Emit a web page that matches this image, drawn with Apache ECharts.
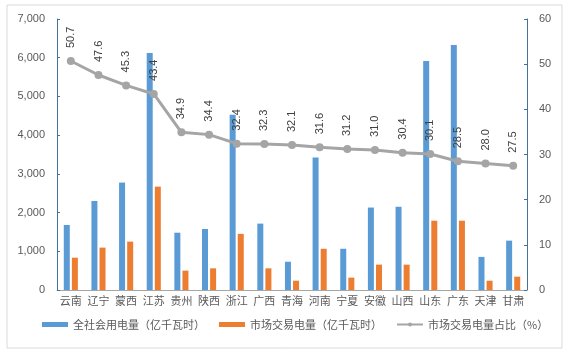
<!DOCTYPE html>
<html>
<head>
<meta charset="utf-8">
<script src="https://cdn.jsdelivr.net/npm/echarts@6/dist/echarts.min.js"></script>
<style>
  html, body { margin: 0; padding: 0; background: #fff; }
  #chart { width: 571px; height: 354px; }
</style>
</head>
<body>
<div id="chart"></div>
<script>
const provinces = ['云南', '辽宁', '蒙西', '江苏', '贵州', '陕西', '浙江', '广西', '青海', '河南', '宁夏', '安徽', '山西', '山东', '广东', '天津', '甘肃']
const totalUse = [1680, 2300, 2775, 6120, 1480, 1575, 4525, 1715, 730, 3420, 1065, 2130, 2150, 5915, 6330, 855, 1275]
const marketUse = [835, 1095, 1250, 2670, 500, 560, 1450, 560, 240, 1065, 320, 655, 655, 1790, 1790, 240, 345]
const marketShare = [50.7, 47.6, 45.3, 43.4, 34.9, 34.4, 32.4, 32.3, 32.1, 31.6, 31.2, 31.0, 30.4, 30.1, 28.5, 28.0, 27.5]

const font = 'Liberation Sans, "Noto Sans CJK SC", sans-serif'
const chart = echarts.init(document.getElementById('chart'))
chart.setOption({
  animation: false,
  textStyle: { fontFamily: font },
  graphic: [{
    type: 'rect',
    shape: { x: 7, y: 5, width: 555, height: 343 },
    style: { fill: 'none', stroke: '#d9d9d9', lineWidth: 1 }
  }],
  grid: { left: 57, right: 44, top: 19, bottom: 64 },
  legend: {
    top: 319,
    left: 42,
    width: 525,
    padding: 0,
    itemGap: 14,
    textStyle: { color: '#595959', fontSize: 11, fontFamily: '"Noto Sans CJK SC"' },
    data: [
      { name: '全社会用电量（亿千瓦时）', icon: 'rect' },
      { name: '市场交易电量（亿千瓦时）', icon: 'rect' },
      { name: '市场交易电量占比（%）' }
    ],
    itemWidth: 26,
    itemHeight: 5
  },
  xAxis: {
    type: 'category',
    data: provinces,
    axisLine: { lineStyle: { color: '#a6a6a6' } },
    axisTick: { show: false },
    axisLabel: { color: '#595959', fontSize: 11, margin: 5, interval: 0, fontFamily: '"Noto Sans CJK SC"' }
  },
  yAxis: [{
    type: 'value',
    min: 0,
    max: 7000,
    interval: 1000,
    axisLine: { show: true, lineStyle: { color: '#44729c' } },
    axisTick: { show: true, inside: true, length: 3 },
    axisLabel: {
      color: '#595959',
      fontSize: 11,
      margin: 12,
      formatter: v => v.toLocaleString('en-US')
    },
    splitLine: { show: false }
  }, {
    type: 'value',
    min: 0,
    max: 60,
    interval: 10,
    axisLine: { show: true, lineStyle: { color: '#44729c' } },
    axisTick: { show: true, inside: true, length: 3 },
    axisLabel: { color: '#595959', fontSize: 11, margin: 12 },
    splitLine: { show: false }
  }],
  series: [{
    name: '全社会用电量（亿千瓦时）',
    type: 'bar',
    data: totalUse,
    barWidth: 6,
    barGap: '35%',
    itemStyle: { color: '#5b9bd5' }
  }, {
    name: '市场交易电量（亿千瓦时）',
    type: 'bar',
    data: marketUse,
    barWidth: 6,
    itemStyle: { color: '#ed7d31' }
  }, {
    name: '市场交易电量占比（%）',
    type: 'line',
    yAxisIndex: 1,
    data: marketShare,
    symbol: 'circle',
    symbolSize: 8,
    lineStyle: { color: '#a5a5a5', width: 3 },
    itemStyle: { color: '#a5a5a5' },
    label: {
      show: true,
      position: 'top',
      distance: 9,
      rotate: 90,
      align: 'left',
      verticalAlign: 'middle',
      color: '#404040',
      fontSize: 11,
      formatter: p => p.value.toFixed(1)
    }
  }]
})
</script>
</body>
</html>
